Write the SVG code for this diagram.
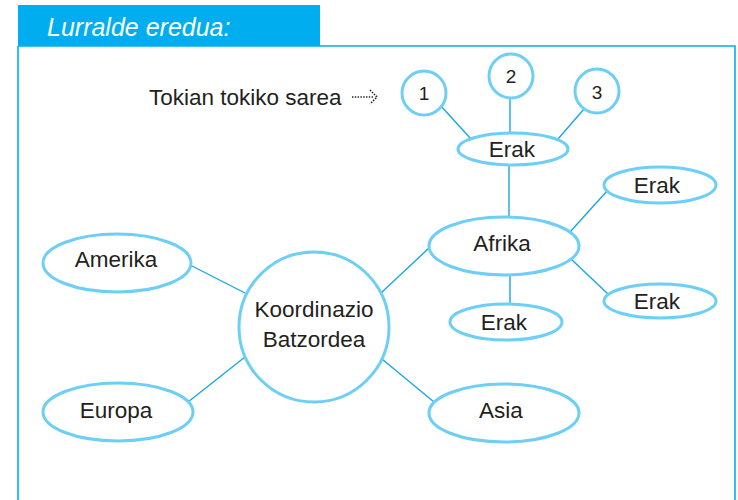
<svg xmlns="http://www.w3.org/2000/svg" width="738" height="500" viewBox="0 0 738 500">
<style>
.n{fill:#fff;stroke:#6dcff6;stroke-width:3}
.t{font-family:"Liberation Sans",Arial,sans-serif;font-size:22.5px;fill:#231f20;text-anchor:middle}
.num{font-family:"Liberation Sans",Arial,sans-serif;font-size:19px;fill:#231f20;text-anchor:middle}
#connectors line{stroke:#1aa7e0;stroke-width:1.4}
</style>
<rect x="0" y="0" width="738" height="500" fill="#fff"/>
<g id="frame">
<path d="M18 46 H735 V500 M18 46 V500" fill="none" stroke="#00aeef" stroke-width="1.6"/>
<rect x="18" y="5" width="302" height="41" fill="#00aeef"/>
<text x="47" y="36" font-family="'Liberation Sans',Arial,sans-serif" font-size="25" font-style="italic" fill="#fff">Lurralde eredua:</text>
</g>
<g id="connectors">
<line x1="441" y1="106" x2="471" y2="139"/>
<line x1="510" y1="98" x2="510" y2="133"/>
<line x1="584" y1="109" x2="558" y2="139"/>
<line x1="509" y1="166" x2="509" y2="217"/>
<line x1="570" y1="232" x2="607" y2="191"/>
<line x1="571" y1="259" x2="608" y2="294"/>
<line x1="510" y1="275" x2="510" y2="304"/>
<line x1="381" y1="293" x2="429" y2="248"/>
<line x1="192" y1="266" x2="247" y2="294"/>
<line x1="188" y1="402" x2="245" y2="357"/>
<line x1="382" y1="359" x2="434" y2="402"/>
</g>
<g id="legend">
<text x="149" y="105" font-family="'Liberation Sans',Arial,sans-serif" font-size="22.5" fill="#231f20">Tokian tokiko sarea</text>
<path d="M352 97 H374 M370 90 L377 97 L370 104" fill="none" stroke="#231f20" stroke-width="1.6" stroke-dasharray="1.4 1.4"/>
</g>
<g id="c1"><circle class="n" cx="424" cy="93" r="22"/><text class="num" x="424" y="100">1</text></g>
<g id="c2"><circle class="n" cx="511" cy="76" r="22"/><text class="num" x="511" y="83">2</text></g>
<g id="c3"><circle class="n" cx="597" cy="91" r="22"/><text class="num" x="597" y="99" font-size="22">3</text></g>
<g id="erak-top"><ellipse class="n" cx="513" cy="149" rx="55" ry="16"/><text class="t" x="512" y="157">Erak</text></g>
<g id="afrika"><ellipse class="n" cx="504" cy="246" rx="75" ry="29"/><text class="t" x="502" y="251">Afrika</text></g>
<g id="erak-tr"><ellipse class="n" cx="660" cy="185" rx="56" ry="18"/><text class="t" x="657" y="193">Erak</text></g>
<g id="erak-r"><ellipse class="n" cx="660" cy="301" rx="56" ry="17"/><text class="t" x="657" y="309">Erak</text></g>
<g id="erak-b"><ellipse class="n" cx="506" cy="322" rx="56" ry="18"/><text class="t" x="504" y="330">Erak</text></g>
<g id="amerika"><ellipse class="n" cx="117" cy="263" rx="74" ry="29"/><text class="t" x="116" y="267">Amerika</text></g>
<g id="koordinazio"><circle class="n" cx="314" cy="327" r="75"/><text class="t" x="314" y="317">Koordinazio</text><text class="t" x="314" y="347">Batzordea</text></g>
<g id="europa"><ellipse class="n" cx="118" cy="412" rx="75" ry="29"/><text class="t" x="116" y="418">Europa</text></g>
<g id="asia"><ellipse class="n" cx="504" cy="413" rx="75" ry="29"/><text class="t" x="501" y="418">Asia</text></g>
</svg>
